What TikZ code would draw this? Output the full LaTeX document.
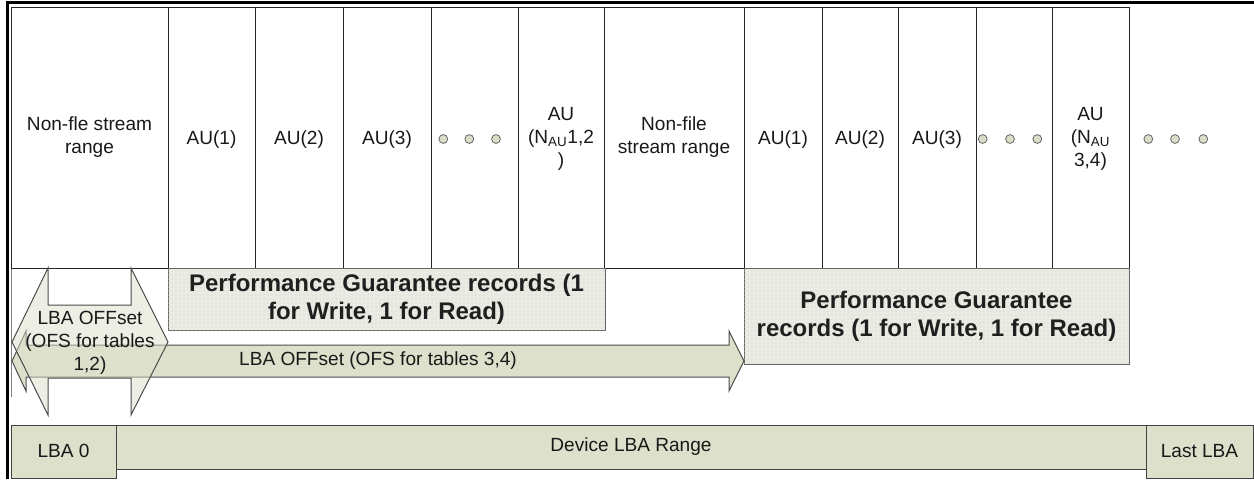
\documentclass[tikz,border=0pt]{standalone}
\usepackage{fontspec}
\setmainfont{Liberation Sans}
\usetikzlibrary{patterns}
\definecolor{lgreen}{HTML}{DDE0CB}
\definecolor{pgfill}{HTML}{EBEBE3}
\definecolor{dotfill}{HTML}{DADDC8}
\begin{document}
\begin{tikzpicture}[x=0.75pt,y=-0.75pt,
  cellline/.style={draw=black!85,line width=0.75pt},
  txt/.style={font=\fontsize{14.3}{17.3}\selectfont,align=center,inner sep=0pt,text=black!90},
  btxt/.style={font=\fontsize{18}{21}\selectfont\bfseries,align=center,inner sep=0pt,text=black!88},
  pgbox/.style={draw=black!60,line width=0.75pt,fill=pgfill,postaction={pattern=dots,pattern color=black!18}},
  greenbox/.style={draw=black!75,line width=0.75pt,fill=lgreen},
  arrowshape/.style={draw=black!70,line width=0.75pt,fill=lgreen},
  ell/.style={circle,draw=black!60,fill=dotfill,line width=0.6pt,minimum size=6.6pt,inner sep=0pt}
]
\useasboundingbox (0,0) rectangle (1254,479);
\fill[white] (0,0) rectangle (1254,479);

% outer frame
\draw[line width=2.25pt] (7.5,479) -- (7.5,2.5) -- (1254,2.5);
\draw[black!50,line width=0.75pt] (11,7) -- (11,397);

% top cells
\draw[cellline] (11,7) rectangle (1129,268);
\foreach \x in {168,255,343,431,518,604,744,822,898,976,1052}
  \draw[cellline] (\x,7) -- (\x,268);

\node[txt] (nfs1) at (89.5,137) {Non-fle stream\\range};
\node[txt] (au1a) at (211.5,140) {AU(1)};
\node[txt] (au2a) at (299,140) {AU(2)};
\node[txt] (au3a) at (387,140) {AU(3)};
\node[ell] (d1) at (443.3,139) {};
\node[ell] (d2) at (469.3,139) {};
\node[ell] (d3) at (496,139) {};
\node[txt] (auna) at (561,139) {AU\\(N\textsubscript{AU}1,2\\)};
\node[txt] (nfs2) at (674,137) {Non-file\\stream range};
\node[txt] (au1b) at (783,140) {AU(1)};
\node[txt] (au2b) at (860,140) {AU(2)};
\node[txt] (au3b) at (937,140) {AU(3)};
\node[ell] (d4) at (982.7,139) {};
\node[ell] (d5) at (1010,139) {};
\node[ell] (d6) at (1037.3,139) {};
\node[txt] (aunb) at (1090.5,139) {AU\\(N\textsubscript{AU}\\3,4)};
\node[ell] (d7) at (1148.3,139) {};
\node[ell] (d8) at (1175,139) {};
\node[ell] (d9) at (1203.3,139) {};

% performance guarantee boxes
\draw[pgbox] (168,268) rectangle (605,330);
\node[btxt] (pg1) at (386.5,299) {Performance Guarantee records (1\\for Write, 1 for Read)};
\draw[pgbox] (744,268) rectangle (1129,364);
\node[btxt] (pg2) at (936.5,316) {Performance Guarantee\\records (1 for Write, 1 for Read)};

% long offset arrow
\draw[arrowshape] (12,361) -- (26,331) -- (26,345) -- (729,345) -- (729,331) -- (744,361)
  -- (729,391) -- (729,377) -- (26,377) -- (26,391) -- cycle;
\node[txt] (lo2) at (378,361) {LBA OFFset (OFS for tables 3,4)};

% short offset double arrow
\draw[arrowshape,fill opacity=0.5] (12,342) -- (48,268) -- (48,305) -- (131,305) -- (131,268) -- (168,342)
  -- (131,415) -- (131,378) -- (48,378) -- (48,415) -- cycle;
\node[txt] (lo1) at (90,343) {LBA OFFset\\(OFS for tables\\1,2)};

% device LBA range
\draw[greenbox] (11,425) rectangle (1146,469);
\node[txt] (dev) at (631,447) {Device LBA Range};
\draw[greenbox] (11,425) rectangle (116,478);
\node[txt] (lba0) at (63.5,451) {LBA 0};
\draw[greenbox] (1146,425) rectangle (1253,478);
\node[txt] (last) at (1199.5,451) {Last LBA};
\end{tikzpicture}
\end{document}
